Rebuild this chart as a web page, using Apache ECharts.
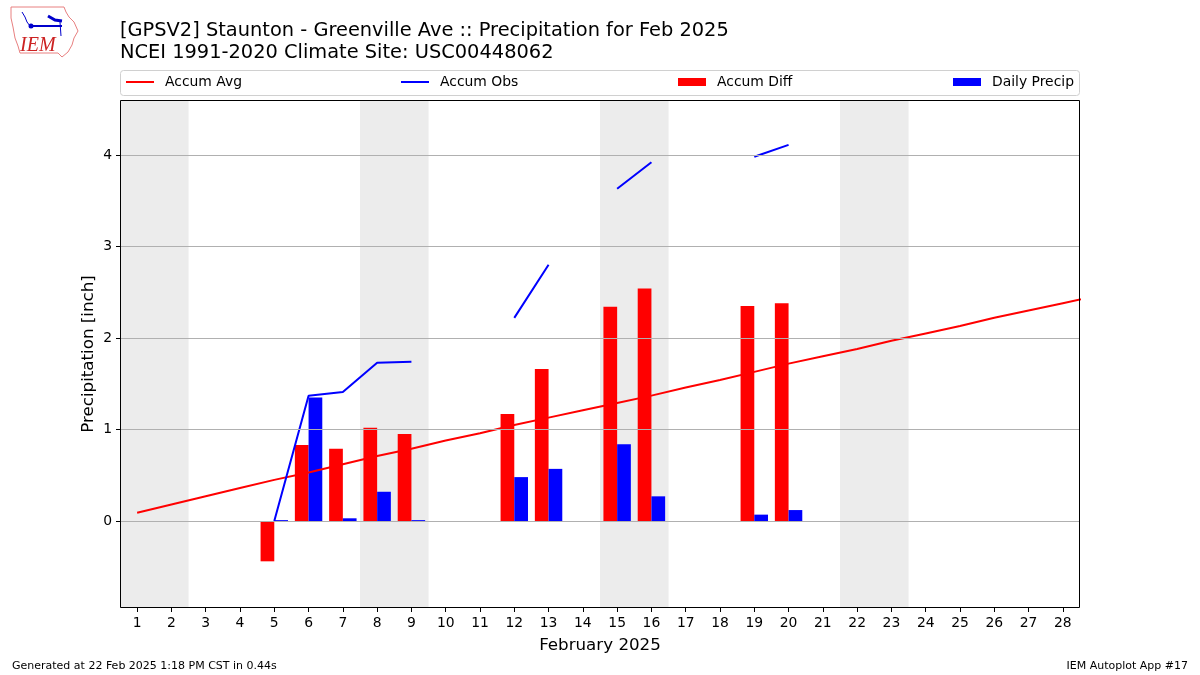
<!DOCTYPE html>
<html>
<head>
<meta charset="utf-8">
<script src="https://cdn.jsdelivr.net/npm/echarts@6/dist/echarts.min.js"></script>
<style>
html,body{margin:0;padding:0;background:#fff;}
#chart{width:1200px;height:675px;}
</style>
</head>
<body>
<div id="chart"></div>
<script>
// ---- data ----
const days = [1,2,3,4,5,6,7,8,9,10,11,12,13,14,15,16,17,18,19,20,21,22,23,24,25,26,27,28];
const tickDays = days;
const yTicks = [0,1,2,3,4];
// accumulated climatology (day 29 = Mar 1, clipped at edge)
const avgDays = [1,2,3,4,5,6,7,8,9,10,11,12,13,14,15,16,17,18,19,20,21,22,23,24,25,26,27,28,29];
const accumAvg = [0.09,0.18,0.27,0.36,0.45,0.53,0.62,0.71,0.79,0.88,0.96,1.05,1.13,1.21,1.29,1.37,1.46,1.54,1.63,1.72,1.80,1.88,1.97,2.05,2.13,2.22,2.30,2.38,2.46];
const accumObs = [null,null,null,null,0.00,1.37,1.41,1.73,1.74,null,null,2.22,2.80,null,3.63,3.92,null,null,3.98,4.11,null,null,null,null,null,null,null,null];
const accumDiff = [null,null,null,null,-0.44,0.83,0.79,1.02,0.95,null,null,1.17,1.66,null,2.34,2.54,null,null,2.35,2.38,null,null,null,null,null,null,null,null];
const dailyPrecip = [null,null,null,null,0.01,1.35,0.03,0.32,0.01,null,null,0.48,0.57,null,0.84,0.27,null,null,0.07,0.12,null,null,null,null,null,null,null,null];
const weekendBands = [[0.5,2.5],[7.5,9.5],[14.5,16.5],[21.5,23.5]];
const titleText = '[GPSV2] Staunton - Greenville Ave :: Precipitation for Feb 2025\nNCEI 1991-2020 Climate Site: USC00448062';
const footerLeft = 'Generated at 22 Feb 2025 1:18 PM CST in 0.44s';
const footerRight = 'IEM Autoplot App #17';

const FONT = 'DejaVu Sans';
const chart = echarts.init(document.getElementById('chart'), null, {renderer:'canvas'});

const lineData = (arr) => days.map((d,i)=>[d, arr[i]==null ? '-' : arr[i]]);
const barData = (arr) => days.map((d,i)=>arr[i]==null?null:[d,arr[i]]).filter(v=>v);

const legendCommon = {
  top: 75, itemHeight: 2, itemWidth: 28, icon: 'rect',
  textStyle: {fontFamily: FONT, fontSize: 13.9, color: '#000', padding:[0,0,0,6]},
  padding: 0, selectedMode: false
};

const option = {
  backgroundColor: '#fff',
  animation: false,
  title: {
    text: titleText, left: 115, top: 15,
    textStyle: {fontFamily: FONT, fontSize: 19.4, fontWeight: 'normal', color: '#000', lineHeight: 22}
  },
  legend: [
    Object.assign({}, legendCommon, {left: 126, data:[{name:'Accum Avg'}]}),
    Object.assign({}, legendCommon, {left: 401, data:[{name:'Accum Obs'}]}),
    Object.assign({}, legendCommon, {left: 678, itemHeight: 8, data:[{name:'Accum Diff'}]}),
    Object.assign({}, legendCommon, {left: 953, itemHeight: 8, data:[{name:'Daily Precip'}]})
  ],
  grid: {left: 120, right: 120, top: 100, bottom: 67, show: false},
  xAxis: {
    type: 'value', min: 0.5, max: 28.5,
    axisLine: {show: false, onZero: false},
    axisTick: {show: true, customValues: tickDays, length: 4, lineStyle: {color: '#000'}},
    axisLabel: {customValues: tickDays, fontFamily: FONT, fontSize: 13.9, color: '#000', margin: 8},
    splitLine: {show: false},
    name: 'February 2025', nameLocation: 'middle', nameGap: 29, nameMoveOverlap: false,
    nameTextStyle: {fontFamily: FONT, fontSize: 16.7, color: '#000'}
  },
  yAxis: {
    type: 'value', min: -0.95, max: 4.6,
    axisLine: {show: false, onZero: false},
    axisTick: {show: true, customValues: yTicks, length: 4, lineStyle: {color: '#000'}},
    axisLabel: {customValues: yTicks, fontFamily: FONT, fontSize: 13.9, color: '#000', margin: 8},
    splitLine: {show: false},
    name: 'Precipitation [inch]', nameLocation: 'middle', nameGap: 23, nameMoveOverlap: false,
    nameTextStyle: {fontFamily: FONT, fontSize: 16.7, color: '#000'}
  },
  series: [
    {
      name: 'bands', type: 'line', data: [], z: 0, silent: true,
      markArea: {silent: true, itemStyle: {color: '#ececec'},
        data: weekendBands.map(b=>[{xAxis: b[0]},{xAxis: b[1]}])}
    },
    {
      name: 'grid', type: 'line', data: [], z: 1, silent: true,
      markLine: {silent: true, symbol: ['none','none'], label: {show: false},
        lineStyle: {color: '#b0b0b0', width: 1, type: 'solid'},
        data: yTicks.map(v=>({yAxis: v}))}
    },
    {
      name: 'Accum Diff', type: 'bar', data: barData(accumDiff), z: 2,
      barWidth: '40%', barGap: '0%', itemStyle: {color: '#ff0000'}
    },
    {
      name: 'Daily Precip', type: 'bar', data: barData(dailyPrecip), z: 2,
      barWidth: '40%', barGap: '0%', itemStyle: {color: '#0000ff'}
    },
    {
      name: 'Accum Avg', type: 'line', z: 3, showSymbol: false, symbol: 'none',
      data: avgDays.map((d,i)=>[d, accumAvg[i]]),
      lineStyle: {color: '#ff0000', width: 2}, itemStyle: {color: '#ff0000'}
    },
    {
      name: 'Accum Obs', type: 'line', z: 3, showSymbol: false, symbol: 'none', connectNulls: false,
      data: lineData(accumObs),
      lineStyle: {color: '#0000ff', width: 2}, itemStyle: {color: '#0000ff'}
    }
  ],
  graphic: [
    {type: 'rect', x: 120.5, y: 70.5, shape: {width: 959, height: 25, r: 3}, style: {fill: 'rgba(255,255,255,0.8)', stroke: '#d0d0d0', lineWidth: 1}, z: -1, silent: true},
    {type: 'rect', x: 120.5, y: 100.5, shape: {width: 959, height: 507}, style: {fill: 'none', stroke: '#000', lineWidth: 1}, z: 100, silent: true},
    {type: 'text', left: 12, top: 661, style: {text: footerLeft, font: '11px "DejaVu Sans"', fill: '#000'}},
    {type: 'text', right: 12, top: 661, style: {text: footerRight, font: '11px "DejaVu Sans"', fill: '#000'}},
    // IEM logo approximation
    {type: 'polyline', silent: true, shape: {points: [[11,7],[64,7],[66,12],[69,17],[74,22],[78,31],[74,38],[72,45],[68,52],[62,57],[58,53],[20,53],[18,46],[15,38],[13,27],[11,18],[11,7]]}, style: {stroke: '#e88080', fill: 'none', lineWidth: 1}},
    {type: 'polyline', silent: true, shape: {points: [[30,26],[62,26]]}, style: {stroke: '#0000cc', lineWidth: 2}},
    {type: 'polyline', silent: true, shape: {points: [[22,12],[25,17],[27,22],[30,26]]}, style: {stroke: '#0000cc', lineWidth: 1}},
    {type: 'polyline', silent: true, shape: {points: [[48,16],[55,20],[62,21]]}, style: {stroke: '#0000cc', lineWidth: 3}},
    {type: 'polyline', silent: true, shape: {points: [[60,22],[61,36]]}, style: {stroke: '#0000cc', lineWidth: 1}},
    {type: 'circle', silent: true, shape: {cx: 31, cy: 26, r: 2.5}, style: {fill: '#0000cc'}},
    {type: 'text', x: 20, y: 36, silent: true, style: {text: 'IEM', font: 'italic 20px "Liberation Serif"', fill: '#cc2222'}}
  ]
};
chart.setOption(option);
</script>
</body>
</html>
